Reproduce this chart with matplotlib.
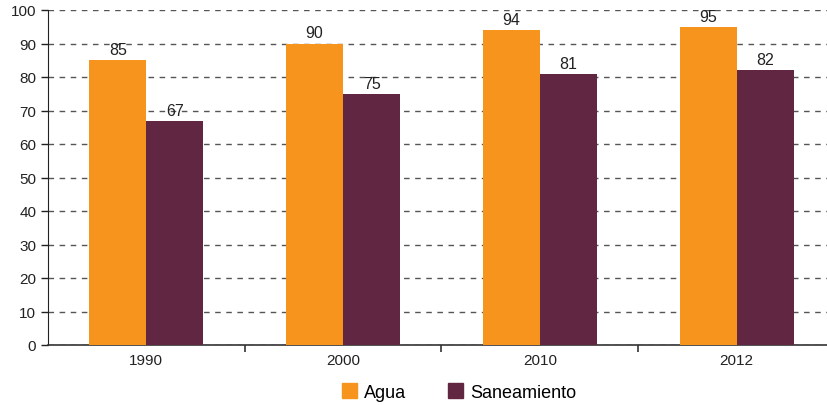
import matplotlib
matplotlib.use("Agg")
import matplotlib.pyplot as plt
import matplotlib.patches as mpatches
import numpy as np

# ── Data ──────────────────────────────────────────────────────────────────────

years       = ["1990", "2000", "2010", "2012"]
agua        = [85, 90, 94, 95]
saneamiento = [67, 75, 81, 82]

ORANGE = "#F7941D"
MAROON = "#612641"

plt.rcParams["font.family"] = ["Liberation Sans", "DejaVu Sans"]

fig = plt.figure(figsize=(8.28, 4.06), dpi=100)
W, H = 828, 406
x0, x1 = 48, 835
y0, y1 = 346, 11
ax = fig.add_axes([x0 / W, (H - y0) / H, (x1 - x0) / W, (y0 - y1) / H])

x = np.arange(len(years))
w = 0.29

bars_a = ax.bar(x - w / 2, agua, width=w, color=ORANGE, zorder=3)
bars_s = ax.bar(x + w / 2, saneamiento, width=w, color=MAROON, zorder=3)

# value labels just above each bar
for bars in (bars_a, bars_s):
    for b in bars:
        h = b.get_height()
        ax.text(b.get_x() + b.get_width() / 2, h + 0.9, f"{h:.0f}",
                ha="center", va="bottom", fontsize=11.5, color="#222222")

ax.set_xlim(-0.5, len(years) - 0.5)
ax.set_ylim(0, 100)
ax.set_yticks(range(0, 101, 10))
ax.yaxis.grid(True, linestyle=(0, (4, 4)), color="#555555", linewidth=1, zorder=0)

ax.set_xticks(x)
ax.set_xticklabels(years)
ax.set_xticks(np.arange(0.5, len(years) - 0.5, 1), minor=True)
ax.tick_params(axis="x", which="major", length=0, labelsize=11, pad=6, colors="#222222")
ax.tick_params(axis="x", which="minor", length=5, width=1.2, direction="out", color="#333333")
ax.tick_params(axis="y", length=5, width=1, labelsize=11, colors="#222222")

for s in ("top", "right"):
    ax.spines[s].set_visible(False)
ax.spines["left"].set_color("#222222")
ax.spines["bottom"].set_color("#333333")
ax.spines["bottom"].set_linewidth(1.2)

handles = [mpatches.Patch(color=ORANGE, label="Agua"),
           mpatches.Patch(color=MAROON, label="Saneamiento")]
fig.legend(handles=handles, loc="center", bbox_to_anchor=(459 / W, 1 - 393 / H),
           ncol=2, frameon=False, fontsize=13, handlelength=0.85, handleheight=0.85,
           columnspacing=2.3, handletextpad=0.4)

fig.savefig("out.png", dpi=100)
